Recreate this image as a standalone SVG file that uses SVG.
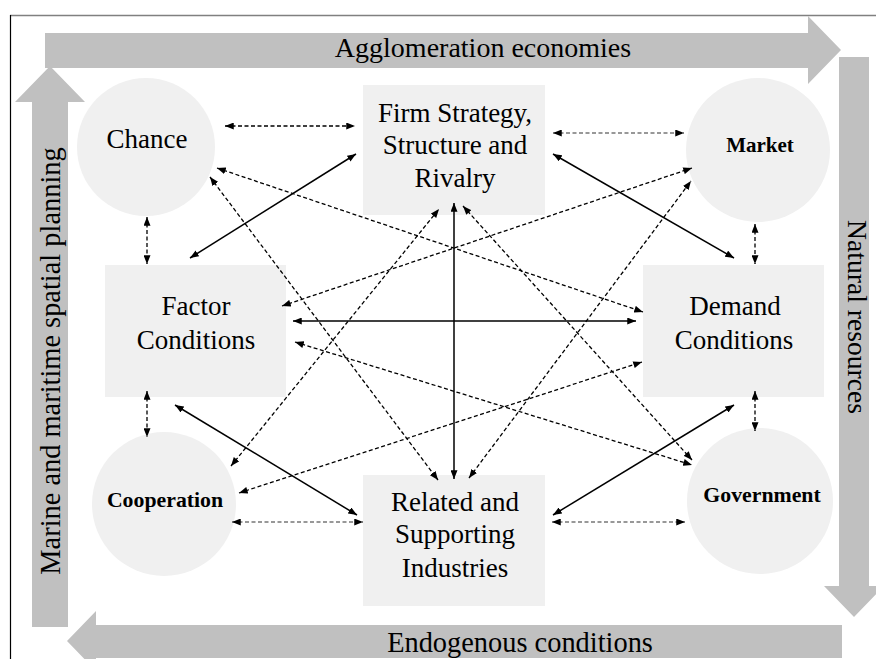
<svg xmlns="http://www.w3.org/2000/svg" width="876" height="659" viewBox="0 0 876 659">
<style>
.band{fill:#c0c0c0}
.node{fill:#f0f0f0}
.sol{stroke:#000;stroke-width:1.5;fill:none}
.dsh{stroke:#000;stroke-width:1.3;stroke-dasharray:4 2.5;fill:none}
.dshl{stroke:#333;stroke-width:1.1;stroke-dasharray:4 2.5;fill:none}
</style>
<defs>
<marker id="ah" viewBox="0 0 10 8" refX="10" refY="4" markerWidth="9" markerHeight="7" markerUnits="userSpaceOnUse" orient="auto-start-reverse">
<path d="M0,0 L10,4 L0,8 z" fill="#000"/>
</marker>
</defs>
<rect width="876" height="659" fill="#fff"/>
<line x1="10" y1="15.5" x2="876" y2="15.5" stroke="#808080" stroke-width="1.5"/>
<line x1="10.5" y1="15" x2="10.5" y2="659" stroke="#000" stroke-width="1.2"/>

<g font-family="Liberation Serif, Times New Roman, serif" fill="#000">
<g id="band-top">
<polygon class="band" points="45,33 808,33 808,16 841,50 808,84 808,68 45,68"/>
<text x="483" y="57" font-size="28" text-anchor="middle">Agglomeration economies</text>
</g>
<g id="band-left">
<polygon class="band" points="32,627 32,102 15,102 50,66 85,102 68,102 68,627"/>
<text transform="translate(60,361) rotate(-90)" font-size="28.4" text-anchor="middle">Marine and maritime spatial planning</text>
</g>
<g id="band-right">
<polygon class="band" points="839,57 869,57 869,586 884,586 854,617 824,586 839,586"/>
<text transform="translate(848,317) rotate(90)" font-size="27.6" text-anchor="middle">Natural resources</text>
</g>
<g id="band-bottom">
<polygon class="band" points="842,625 842,658 96,658 96,671 67,641 96,611 96,625"/>
<text x="520" y="652" font-size="28.4" text-anchor="middle">Endogenous conditions</text>
</g>

<g id="chance">
<circle class="node" cx="146" cy="147" r="69"/>
<text x="147" y="148" font-size="27" text-anchor="middle">Chance</text>
</g>
<g id="firm">
<rect class="node" x="363" y="85" width="182" height="130"/>
<text x="455" y="122" font-size="27" text-anchor="middle">Firm Strategy,</text>
<text x="455" y="154" font-size="27" text-anchor="middle">Structure and</text>
<text x="455" y="187" font-size="27" text-anchor="middle">Rivalry</text>
</g>
<g id="market">
<circle class="node" cx="758" cy="150" r="72"/>
<text x="760" y="152" font-size="21" font-weight="bold" text-anchor="middle">Market</text>
</g>
<g id="factor">
<rect class="node" x="105" y="265" width="181" height="132"/>
<text x="196" y="315" font-size="27" text-anchor="middle">Factor</text>
<text x="196" y="349" font-size="27" text-anchor="middle">Conditions</text>
</g>
<g id="demand">
<rect class="node" x="643" y="265" width="181" height="132"/>
<text x="735" y="315" font-size="27" text-anchor="middle">Demand</text>
<text x="734" y="349" font-size="27" text-anchor="middle">Conditions</text>
</g>
<g id="cooperation">
<circle class="node" cx="164" cy="504" r="72"/>
<text x="165" y="507" font-size="21.8" font-weight="bold" text-anchor="middle">Cooperation</text>
</g>
<g id="related">
<rect class="node" x="363" y="475" width="182" height="131"/>
<text x="455" y="511" font-size="27" text-anchor="middle">Related and</text>
<text x="455" y="543" font-size="27" text-anchor="middle">Supporting</text>
<text x="455" y="577" font-size="27" text-anchor="middle">Industries</text>
</g>
<g id="government">
<circle class="node" cx="760" cy="501" r="73"/>
<text x="762" y="502" font-size="21.8" font-weight="bold" text-anchor="middle">Government</text>
</g>
</g>

<g id="connectors">
<line class="dsh" x1="225" y1="126" x2="355" y2="126" marker-start="url(#ah)" marker-end="url(#ah)"/>
<line class="dshl" x1="553" y1="133" x2="684" y2="133" marker-start="url(#ah)" marker-end="url(#ah)"/>
<line class="dsh" x1="147" y1="217" x2="147" y2="264" marker-start="url(#ah)" marker-end="url(#ah)"/>
<line class="dsh" x1="755" y1="224" x2="755" y2="264" marker-start="url(#ah)" marker-end="url(#ah)"/>
<line class="dsh" x1="147" y1="391" x2="147" y2="437" marker-start="url(#ah)" marker-end="url(#ah)"/>
<line class="dsh" x1="755" y1="391" x2="755" y2="431" marker-start="url(#ah)" marker-end="url(#ah)"/>
<line class="dshl" x1="232" y1="522" x2="363" y2="522" marker-start="url(#ah)" marker-end="url(#ah)"/>
<line class="dshl" x1="552" y1="522" x2="685" y2="522" marker-start="url(#ah)" marker-end="url(#ah)"/>
<line class="sol" x1="190" y1="258" x2="356" y2="154" marker-start="url(#ah)" marker-end="url(#ah)"/>
<line class="sol" x1="553" y1="154" x2="734" y2="258" marker-start="url(#ah)" marker-end="url(#ah)"/>
<line class="sol" x1="293" y1="321" x2="636" y2="321" marker-start="url(#ah)" marker-end="url(#ah)"/>
<line class="sol" x1="454" y1="203" x2="454" y2="479" marker-start="url(#ah)" marker-end="url(#ah)"/>
<line class="sol" x1="175" y1="405" x2="357" y2="515" marker-start="url(#ah)" marker-end="url(#ah)"/>
<line class="sol" x1="553" y1="515" x2="734" y2="405" marker-start="url(#ah)" marker-end="url(#ah)"/>
<line class="dsh" x1="217" y1="168" x2="643" y2="312" marker-start="url(#ah)" marker-end="url(#ah)"/>
<line class="dsh" x1="210" y1="177" x2="438" y2="480" marker-start="url(#ah)" marker-end="url(#ah)"/>
<line class="dsh" x1="282" y1="306" x2="692" y2="168" marker-start="url(#ah)" marker-end="url(#ah)"/>
<line class="dsh" x1="295" y1="342" x2="692" y2="465" marker-start="url(#ah)" marker-end="url(#ah)"/>
<line class="dsh" x1="231" y1="466" x2="439" y2="209" marker-start="url(#ah)" marker-end="url(#ah)"/>
<line class="dsh" x1="239" y1="493" x2="642" y2="362" marker-start="url(#ah)" marker-end="url(#ah)"/>
<line class="dsh" x1="469" y1="478" x2="691" y2="181" marker-start="url(#ah)" marker-end="url(#ah)"/>
<line class="dsh" x1="463" y1="206" x2="692" y2="460" marker-start="url(#ah)" marker-end="url(#ah)"/>
</g>
</svg>
